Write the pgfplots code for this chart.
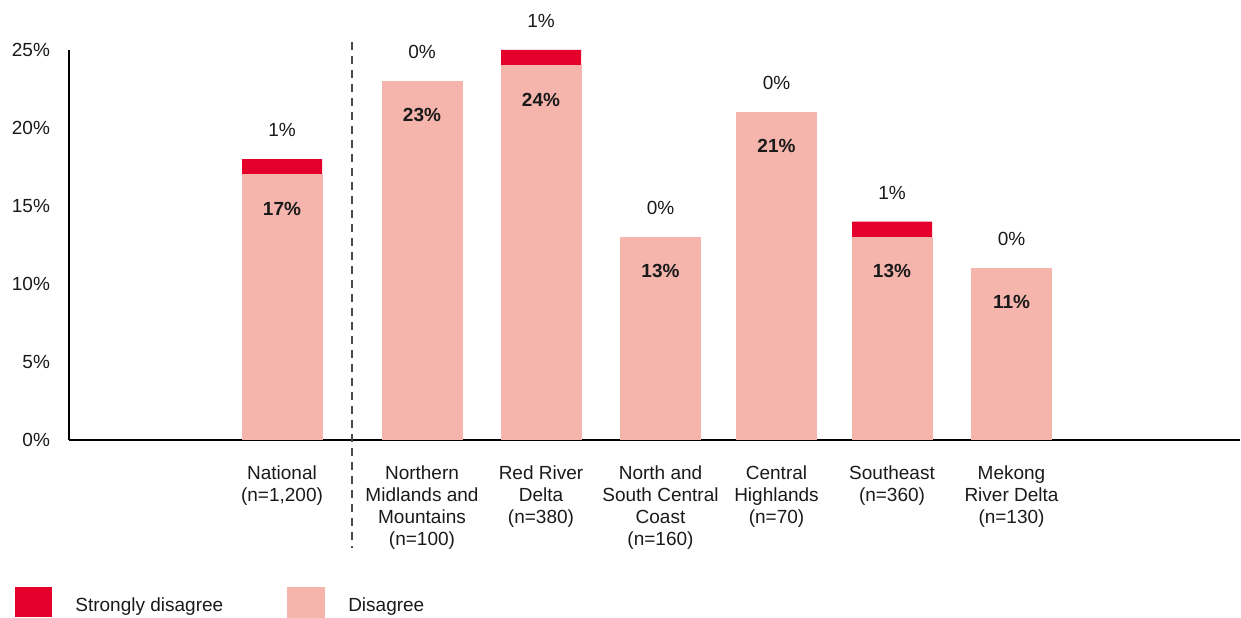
\documentclass[border=0pt]{standalone}
\usepackage{pgfplots}
\pgfplotsset{compat=1.18}
\usepackage{fontspec}
\setmainfont{Liberation Sans}
\definecolor{sdis}{HTML}{E4002B}
\definecolor{dis}{HTML}{F5B5AD}
\definecolor{txt}{HTML}{1A1A1A}
\begin{document}
\begin{tikzpicture}
\begin{axis}[
    x=0.5pt, y=7.8pt,
    xmin=69, xmax=1240,
    ymin=0, ymax=25,
    axis x line=bottom, axis y line=left,
    axis line style={-, black, line width=0.6pt},
    clip=false,
    ybar, bar shift=0pt, bar width=80,
    ytick={0,5,...,25},
    yticklabel={\pgfmathprintnumber{\tick}\%},
    major tick length=0pt,
    font=\fontsize{9.5}{11}\selectfont,
    tick label style={text=txt},
    /pgf/number format/assume math mode=true,
    yticklabel style={xshift=-6pt},
    xtick={282,422,541,660.5,776.5,892,1011.5},
    xticklabels={{National\\(n=1,200)},{Northern\\Midlands and\\Mountains\\(n=100)},{Red River\\Delta\\(n=380)},{North and\\South Central\\Coast\\(n=160)},{Central\\Highlands\\(n=70)},{Southeast\\(n=360)},{Mekong\\River Delta\\(n=130)}},
    xticklabel style={align=center, anchor=north, yshift=-9.5pt},
    point meta=explicit symbolic,
    nodes near coords,
    legend image code/.code={\fill[#1] (0pt,-7.5pt) rectangle (18.5pt,7.5pt);},
    legend columns=2,
    legend style={draw=none, fill=none, inner sep=0pt, at={(axis cs:15,-11.41)}, anchor=south west,
        nodes={inner sep=0pt, text=txt, yshift=-2pt},
        /tikz/every odd column/.append style={column sep=11.5pt},
        /tikz/every even column/.append style={column sep=32pt}},
]
% strongly disagree sits on top of disagree: bar runs to the total, label is its own share
\addplot[fill=sdis, draw=none,
    every node near coord/.append style={text=txt, anchor=center, yshift=14.5pt}]
  coordinates {(282,18)[1\%] (422,23)[0\%] (541,25)[1\%] (660.5,13)[0\%] (776.5,21)[0\%] (892,14)[1\%] (1011.5,11)[0\%]};
\addlegendentry{Strongly disagree}
\addplot[fill=dis, draw=dis, line width=0.5pt,
    every node near coord/.append style={font=\fontsize{9.5}{11}\selectfont\bfseries, text=txt, anchor=center, yshift=-17pt}]
  coordinates {(282,17)[17\%] (422,23)[23\%] (541,24)[24\%] (660.5,13)[13\%] (776.5,21)[21\%] (892,13)[13\%] (1011.5,11)[11\%]};
\addlegendentry{Disagree}
\draw[gray!60!black, line width=0.8pt, dash pattern=on 4pt off 3pt] (axis cs:352,25.5) -- (axis cs:352,-6.9);
\path (axis cs:0,28.205) rectangle (axis cs:1241,-11.41);
\end{axis}
\end{tikzpicture}
\end{document}
